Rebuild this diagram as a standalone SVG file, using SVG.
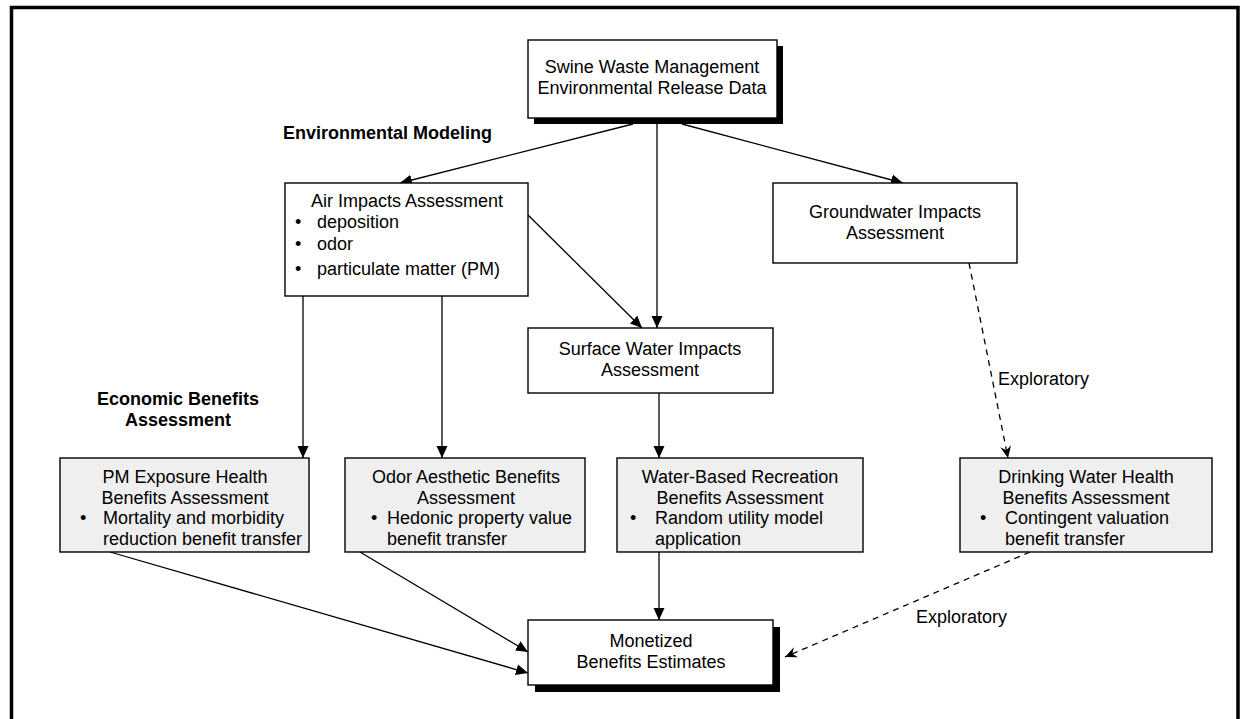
<svg xmlns="http://www.w3.org/2000/svg" width="1244" height="719" viewBox="0 0 1244 719">
  <style>
    text { font-family: "Liberation Sans", Arial, sans-serif; font-size: 18px; fill: #000; }
    .bold { font-weight: bold; }
    .c { text-anchor: middle; }
    .box { fill: #fff; stroke: #000; stroke-width: 1.4; }
    .grey { fill: #efefef; stroke: #000; stroke-width: 1.4; }
    .shadow { fill: #000; }
    .link { fill: none; stroke: #000; stroke-width: 1.3; }
    .dash { stroke-dasharray: 6 5; }
  </style>
  <defs>
    <marker id="arrow" viewBox="0 0 12 12" refX="12" refY="6" markerWidth="12" markerHeight="12" markerUnits="userSpaceOnUse" orient="auto">
      <path d="M0,0.5 L12,6 L0,11.5 Z" fill="#000"/>
    </marker>
    <marker id="barb" viewBox="0 0 12 12" refX="12" refY="6" markerWidth="12" markerHeight="12" markerUnits="userSpaceOnUse" orient="auto">
      <path d="M0,0.5 L12,6 L0,11.5 L4,6 Z" fill="#000"/>
    </marker>
  </defs>

  <rect width="1244" height="719" fill="#fff"/>
  <!-- page frame -->
  <path d="M11.5,719 V7.5 H1238 V719" fill="none" stroke="#000" stroke-width="3.5"/>

  <!-- section labels -->
  <text class="bold" x="283" y="139">Environmental Modeling</text>
  <text class="bold c" x="178" y="405">Economic Benefits</text>
  <text class="bold c" x="178" y="426">Assessment</text>

  <!-- connectors -->
  <g id="connectors">
    <line class="link" x1="633" y1="124" x2="400" y2="183" marker-end="url(#arrow)"/>
    <line class="link" x1="682" y1="124" x2="903" y2="183" marker-end="url(#arrow)"/>
    <line class="link" x1="657" y1="118" x2="657" y2="328" marker-end="url(#arrow)"/>
    <line class="link" x1="528" y1="215" x2="642" y2="328" marker-end="url(#arrow)"/>
    <line class="link" x1="303" y1="296" x2="303" y2="458" marker-end="url(#arrow)"/>
    <line class="link" x1="442" y1="296" x2="442" y2="458" marker-end="url(#arrow)"/>
    <line class="link" x1="659" y1="393" x2="659" y2="458" marker-end="url(#arrow)"/>
    <line class="link dash" x1="969" y1="263" x2="1008" y2="458" marker-end="url(#barb)"/>
    <line class="link" x1="110" y1="552" x2="528" y2="673" marker-end="url(#arrow)"/>
    <line class="link" x1="360" y1="552" x2="528" y2="652" marker-end="url(#arrow)"/>
    <line class="link" x1="659" y1="552" x2="659" y2="620" marker-end="url(#arrow)"/>
    <line class="link dash" x1="1030" y1="552" x2="785" y2="657" marker-end="url(#barb)"/>
    <text x="998" y="385">Exploratory</text>
    <text x="916" y="623">Exploratory</text>
  </g>

  <g id="release-data">
    <rect class="shadow" x="534" y="46" width="249" height="78"/>
    <rect class="box" x="528" y="40" width="249" height="78"/>
    <text class="c" x="652" y="73">Swine Waste Management</text>
    <text class="c" x="652" y="94">Environmental Release Data</text>
  </g>

  <g id="air">
    <rect class="box" x="285" y="183" width="243" height="113"/>
    <text class="c" x="407" y="207">Air Impacts Assessment</text>
    <text x="295" y="228">•</text><text x="317" y="228">deposition</text>
    <text x="295" y="250">•</text><text x="317" y="250">odor</text>
    <text x="295" y="275">•</text><text x="317" y="275">particulate matter (PM)</text>
  </g>

  <g id="groundwater">
    <rect class="box" x="773" y="183" width="244" height="80"/>
    <text class="c" x="895" y="218">Groundwater Impacts</text>
    <text class="c" x="895" y="239">Assessment</text>
  </g>

  <g id="surface-water">
    <rect class="box" x="528" y="328" width="245" height="65"/>
    <text class="c" x="650" y="355">Surface Water Impacts</text>
    <text class="c" x="650" y="376">Assessment</text>
  </g>

  <g id="pm-health">
    <rect class="grey" x="60" y="458" width="249" height="94"/>
    <text class="c" x="185" y="483">PM Exposure Health</text>
    <text class="c" x="185" y="504">Benefits Assessment</text>
    <text x="80" y="524">•</text><text x="103" y="524">Mortality and morbidity</text>
    <text x="103" y="545">reduction benefit transfer</text>
  </g>

  <g id="odor-aesthetic">
    <rect class="grey" x="345" y="458" width="240" height="94"/>
    <text class="c" x="466" y="483">Odor Aesthetic Benefits</text>
    <text class="c" x="466" y="504">Assessment</text>
    <text x="371" y="524">•</text><text x="387" y="524">Hedonic property value</text>
    <text x="387" y="545">benefit transfer</text>
  </g>

  <g id="water-recreation">
    <rect class="grey" x="617" y="458" width="246" height="94"/>
    <text class="c" x="740" y="483">Water-Based Recreation</text>
    <text class="c" x="740" y="504">Benefits Assessment</text>
    <text x="630" y="524">•</text><text x="655" y="524">Random utility model</text>
    <text x="655" y="545">application</text>
  </g>

  <g id="drinking-water">
    <rect class="grey" x="960" y="458" width="252" height="94"/>
    <text class="c" x="1086" y="483">Drinking Water Health</text>
    <text class="c" x="1086" y="504">Benefits Assessment</text>
    <text x="980" y="524">•</text><text x="1005" y="524">Contingent valuation</text>
    <text x="1005" y="545">benefit transfer</text>
  </g>

  <g id="monetized">
    <rect class="shadow" x="535" y="627" width="245" height="65"/>
    <rect class="box" x="528" y="620" width="245" height="65"/>
    <text class="c" x="651" y="647">Monetized</text>
    <text class="c" x="651" y="668">Benefits Estimates</text>
  </g>
</svg>
